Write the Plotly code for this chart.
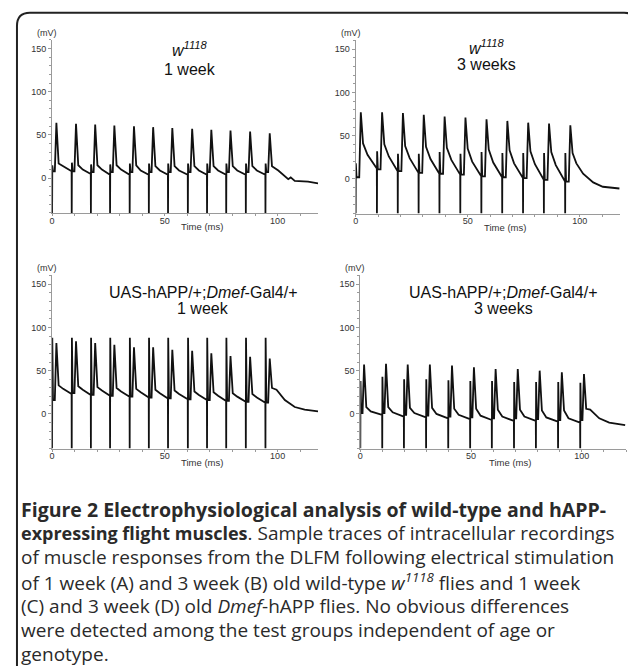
import plotly.graph_objects as go

# page is 636x666; the browser puts an 8px body margin around the figure
OFF = 8
W, H = 636 - OFF, 666 - OFF

# ---------------- data ----------------
# Panel A : w1118, 1 week
stim_A = [0, 8.7, 17.2, 25.7, 34.4, 42.9, 51.4, 60.2, 68.7, 77.2, 85.9, 94.6]
blip_A = [15, 18, 16, 16, 17, 17, 17, 17, 17, 17, 17, 17]
dip_A = [8, 8, 7, 7, 7, 7, 7, 7, 7, 7, 7, 7]
peak_A = [64, 63, 62, 61, 60, 59, 58, 57, 56, 55, 54, 52]
shoulder_A = [17, 15, 15, 15, 15, 14, 14, 14, 14, 14, 14, 14]
mid_A = [14, 10, 10, 10, 9, 9, 9, 9, 9, 9, 9]
pre_A = [8, 5, 4, 4, 4, 4, 4, 4, 4, 4, 4]
tail_t_A = [100.3, 103.2, 104.7, 105.8, 107.6, 113.5, 117.9]
tail_v_A = [9, 3, -1, 1, -3, -4, -6]

# Panel B : w1118, 3 weeks
stim_B = [0, 9.5, 18.8, 28.1, 37.4, 46.7, 56.1, 65.4, 74.7, 84.0, 93.5]
blip_B = [18, 32, 29, 29, 31, 29, 31, 30, 30, 30, 30]
dip_B = [2, 11, 9, 7, 6, 5, 3, 2, 1, -1, -3]
peak_B = [77, 77, 76, 74, 72, 71, 69, 67, 65, 64, 62]
shoulder_B = [41, 40, 38, 37, 36, 35, 34, 33, 32, 31, 30]
mid_B = [28, 26, 24, 23, 22, 20, 19, 18, 17, 16]
pre_B = [12, 9, 7, 6, 5, 3, 2, 1, -1, -3]
tail_t_B = [98.5, 101.5, 106.0, 110.3, 117.7]
tail_v_B = [18, 6, -4, -9, -11]

# Panel C : UAS-hAPP/+;Dmef-Gal4/+, 1 week
stim_C = [0, 8.7, 17.2, 25.7, 34.4, 42.9, 51.4, 60.2, 68.7, 77.2, 85.9, 94.6]
blip_C = [88, 88, 88, 88, 88, 88, 88, 88, 88, 88, 88, 88]
dip_C = [16, 24, 22, 21, 20, 19, 18, 17, 16, 15, 14, 13]
peak_C = [82, 84, 82, 80, 77, 77, 74, 73, 70, 67, 66, 64]
shoulder_C = [33, 32, 31, 30, 29, 28, 27, 26, 25, 24, 23, 30]
mid_C = [29, 28, 27, 26, 25, 24, 23, 22, 21, 20, 19]
pre_C = [23, 22, 21, 20, 19, 18, 17, 16, 15, 14, 13]
tail_t_C = [99.5, 103.2, 107.6, 112.0, 117.9]
tail_v_C = [28, 16, 8, 5, 3]

# Panel D : UAS-hAPP/+;Dmef-Gal4/+, 3 weeks
stim_D = [0, 9.9, 19.7, 29.7, 39.7, 49.6, 59.4, 69.4, 79.3, 89.3, 99.3]
blip_D = [38, 43, 40, 40, 39, 38, 38, 37, 37, 37, 36]
dip_D = [1, 1, -1, -2, -3, -4, -5, -5, -6, -7, -7]
peak_D = [57, 58, 57, 57, 56, 54, 52, 52, 50, 48, 46]
shoulder_D = [8, 8, 7, 7, 6, 6, 5, 5, 4, 4, 6]
mid_D = [3, 2, 1, 0, -1, -2, -3, -3, -4, -5]
pre_D = [-1, -3, -4, -5, -6, -7, -8, -8, -9, -10]
tail_t_D = [103.8, 107.9, 112.4, 119.6]
tail_v_D = [5, -5, -10, -13]

latency = {"A": 1.9, "B": 2.3, "C": 1.9, "D": 1.7}
artifact_low = -40

y_ticks = [0, 50, 100, 150]
x_ticks = [0, 50, 100]
x_ranges = {"A": [0, 118], "B": [0, 118], "C": [0, 118], "D": [0, 120]}
y_range = [-40, 160]

titles = {
    "A": ["<i>w</i><sup><i>1118</i></sup>", "1 week"],
    "B": ["<i>w</i><sup><i>1118</i></sup>", "3 weeks"],
    "C": ["UAS-hAPP/+;<i>Dmef</i>-Gal4/+", "1 week"],
    "D": ["UAS-hAPP/+;<i>Dmef</i>-Gal4/+", "3 weeks"],
}

caption_lines = [
    "<span style='font-size:19.5px'><b>Figure 2 Electrophysiological analysis of wild-type and hAPP-</b></span>",
    "<span style='font-size:18px'><b>expressing flight muscles</b></span>. Sample traces of intracellular recordings",
    "of muscle responses from the DLFM following electrical stimulation",
    "of 1 week (A) and 3 week (B) old wild-type <i>w</i><sup><i>1118</i></sup> flies and 1 week",
    "(C) and 3 week (D) old <i>Dmef</i>-hAPP flies. No obvious differences",
    "were detected among the test groups independent of age or",
    "genotype.",
]

panels = {
    "A": (stim_A, blip_A, dip_A, peak_A, shoulder_A, mid_A, pre_A, tail_t_A, tail_v_A),
    "B": (stim_B, blip_B, dip_B, peak_B, shoulder_B, mid_B, pre_B, tail_t_B, tail_v_B),
    "C": (stim_C, blip_C, dip_C, peak_C, shoulder_C, mid_C, pre_C, tail_t_C, tail_v_C),
    "D": (stim_D, blip_D, dip_D, peak_D, shoulder_D, mid_D, pre_D, tail_t_D, tail_v_D),
}


def build_trace(stim, blip, dip, peak, shoulder, mid, pre, tail_t, tail_v, lat):
    t, v = [], []
    n = len(stim)
    for i, s in enumerate(stim):
        if i > 0:
            t.append(s - 0.05); v.append(pre[i - 1])
        t.append(s); v.append(artifact_low)
        t.append(s + 0.08); v.append(blip[i])
        t.append(s + 0.4); v.append(dip[i])
        t.append(s + lat - 0.7); v.append(dip[i])
        t.append(s + lat); v.append(peak[i])
        t.append(s + lat + 1.0); v.append(shoulder[i])
        if i < n - 1:
            t.append(s + lat + 3.0); v.append(mid[i])
    t += tail_t
    v += tail_v
    return t, v


# ---------------- layout geometry (page pixels) ----------------
def X(px):
    return (px - OFF) / W


def Y(py):
    return 1 - (py - OFF) / H


boxes = {  # x0, x1, ytop, ybottom in page pixels
    "A": (49.3, 316.7, 39.7, 212.9),
    "B": (354.3, 620.0, 40.4, 213.6),
    "C": (49.3, 316.7, 275.4, 448.6),
    "D": (359.0, 626.0, 275.4, 448.6),
}

fig = go.Figure()
layout = dict(
    width=W, height=H, margin=dict(l=0, r=0, t=0, b=0),
    paper_bgcolor="white", plot_bgcolor="white", showlegend=False,
    font=dict(family="Liberation Sans, Arial, sans-serif", color="#222"),
)
annotations = []
axis_col = "#9a9a9a"
for k, key in enumerate(["A", "B", "C", "D"]):
    idx = "" if k == 0 else str(k + 1)
    x0, x1, yt, yb = boxes[key]
    t, v = build_trace(*panels[key], latency[key])
    fig.add_trace(go.Scatter(x=t, y=v, mode="lines", xaxis="x" + idx, yaxis="y" + idx,
                             line=dict(color="#111", width=1.8), hoverinfo="skip"))
    layout["xaxis" + idx] = dict(
        domain=[X(x0), X(x1)], range=x_ranges[key], anchor="y" + idx,
        tickvals=x_ticks, ticks="outside", ticklen=2, tickcolor=axis_col,
        ticklabelstandoff=-3,
        showline=True, linecolor=axis_col, linewidth=1, showgrid=False, zeroline=False,
        tickfont=dict(size=9, color="#333"),
        minor=dict(dtick=10, tick0=0, ticks="outside", ticklen=2, tickcolor=axis_col, showgrid=False),
    )
    layout["yaxis" + idx] = dict(
        domain=[Y(yb), Y(yt)], range=y_range, anchor="x" + idx,
        tickvals=y_ticks, ticks="outside", ticklen=3, tickcolor=axis_col,
        showline=True, linecolor=axis_col, linewidth=1, showgrid=False, zeroline=False,
        tickfont=dict(size=9, color="#333"),
        minor=dict(dtick=10, tick0=0, ticks="outside", ticklen=2, tickcolor=axis_col, showgrid=False),
    )
    annotations.append(dict(text="(mV)", x=X(x0 - 5), y=Y(yt - 7), xref="paper", yref="paper",
                            xanchor="center", yanchor="middle", showarrow=False,
                            font=dict(size=9, color="#333")))
    annotations.append(dict(text="Time (ms)", x=X(x0 + 0.565 * (x1 - x0)), y=Y(yb + 13.5), xref="paper",
                            yref="paper", xanchor="center", yanchor="middle", showarrow=False,
                            font=dict(size=9.5, color="#333")))

title_pos = {  # center x, y line1, y line2 in page pixels
    "A": (188, 49, 69),
    "B": (486, 47, 65),
    "C": (201, 293, 308),
    "D": (503, 293, 308),
}
for key, (cx, y1, y2) in title_pos.items():
    annotations.append(dict(text=titles[key][0], x=X(cx), y=Y(y1), xref="paper", yref="paper",
                            xanchor="center", yanchor="middle", showarrow=False,
                            font=dict(size=16, color="#111")))
    annotations.append(dict(text=titles[key][1], x=X(cx), y=Y(y2), xref="paper", yref="paper",
                            xanchor="center", yanchor="middle", showarrow=False,
                            font=dict(size=16, color="#111")))

cap_x, cap_y0, cap_dy = 16.5, 509, 24.2
for i, line in enumerate(caption_lines):
    annotations.append(dict(text=line, x=X(cap_x), y=Y(cap_y0 + i * cap_dy), xref="paper", yref="paper",
                            xanchor="left", yanchor="middle", showarrow=False,
                            font=dict(size=19, color="#2a2a2a", family="Open Sans, sans-serif")))

layout["annotations"] = annotations
frame = ("M {l},{b} L {l},{y1} Q {l},{t} {x1},{t} L {x2},{t} Q {r},{t} {r},{y2}").format(
    l=X(14), b=Y(666), y1=Y(26), t=Y(12.7), x1=X(27), x2=X(624), r=X(634), y2=Y(22))
layout["shapes"] = [dict(type="path", path=frame, xref="paper", yref="paper",
                         line=dict(color="#222", width=2))]
fig.update_layout(**layout)
fig.write_html("out.html")
